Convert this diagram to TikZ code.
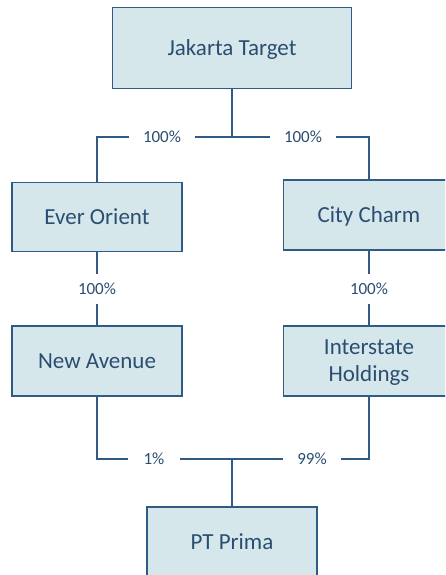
\documentclass[tikz,border=0pt]{standalone}
\usepackage{fontspec}
\setmainfont{Carlito}
\definecolor{boxfill}{HTML}{D6E7EB}
\definecolor{boxline}{HTML}{2F5B84}
\definecolor{txt}{HTML}{2A4E72}
\begin{document}
\begin{tikzpicture}[x=1pt,y=-1pt,
  entity/.style={draw=boxline, fill=boxfill, line width=1.4pt, text=txt,
    font=\fontsize{23}{27}\selectfont, align=center, inner sep=0pt, text depth=0pt},
  oneline/.style={text height=15pt},
  pct/.style={fill=white, text=txt, font=\fontsize{17}{20}\selectfont, inner xsep=14pt, inner ysep=9.5pt,
    text height=11pt, text depth=0pt},
  link/.style={draw=boxline, line width=1.4pt}]
\useasboundingbox (0,0) rectangle (445,575);
\clip (0,0) rectangle (445,575);
\node[entity, oneline, minimum width=239pt, minimum height=81pt] (jt) at (232,48) {Jakarta Target};
\node[entity, oneline, minimum width=170pt, minimum height=69pt] (eo) at (97,217) {Ever Orient};
\node[entity, oneline, minimum width=171pt, minimum height=70pt] (cc) at (369,215) {City Charm};
\node[entity, oneline, minimum width=170pt, minimum height=70pt] (na) at (97,361) {New Avenue};
\node[entity, minimum width=171pt, minimum height=70pt] (ih) at (369,361) {Interstate\\Holdings};
\node[entity, oneline, minimum width=170pt, minimum height=70pt] (pt) at (232,542) {PT Prima};
\coordinate (top) at (232,137);
\coordinate (bot) at (232,459);
\draw[link] (jt.south) -- (top);
\draw[link] (top) -| (eo.north);
\draw[link] (top) -| (cc.north);
\draw[link] (eo.south) -- (na.north);
\draw[link] (cc.south) -- (ih.north);
\draw[link] (na.south) |- (bot);
\draw[link] (ih.south) |- (bot);
\draw[link] (bot) -- (pt.north);
\node[pct] (l1) at (162,137) {100\%};
\node[pct] (l2) at (303,137) {100\%};
\node[pct] (l3) at (97,289) {100\%};
\node[pct] (l4) at (369,289) {100\%};
\node[pct, inner xsep=16pt] (l5) at (154,459) {1\%};
\node[pct] (l6) at (312,459) {99\%};
\end{tikzpicture}
\end{document}
